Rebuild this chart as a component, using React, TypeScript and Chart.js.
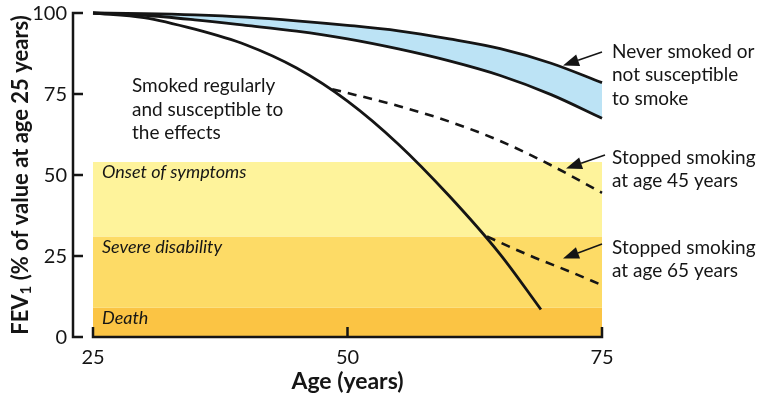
import React, { useEffect, useRef } from 'react';
import { Chart, registerables } from 'chart.js';

Chart.register(...registerables);

// ---- data ----
const ageTicks = [25, 50, 75];
const fevTicks = [0, 25, 50, 75, 100];

const neverAges = [25, 30, 35, 40, 45, 50, 55, 60, 65, 70, 75];
const neverUpper = [100, 99.8, 99.4, 98.7, 97.6, 96.2, 94.5, 92, 89, 84.5, 78.5];
const neverLower = [100, 99.3, 97.9, 96.2, 94.4, 92, 88.9, 85.2, 80.7, 74.8, 67.5];

const smokerAges = [25, 30, 35, 40, 45, 50, 55, 60, 65, 69];
const smokerValues = [100, 98.6, 95, 90.2, 83, 72.8, 59.5, 43.5, 25.5, 8.5];

const quit45Ages = [48.5, 55, 60, 65, 70, 75];
const quit45Values = [76.5, 71.3, 66.5, 60.5, 53, 44.5];

const quit65Ages = [63.7, 68, 72, 75];
const quit65Values = [31, 25, 20, 16];

const bandNames = ['Onset of symptoms', 'Severe disability', 'Death'];
const bandTops = [54, 31, 9];
const bandBottoms = [31, 9, 0];
const bandColors = ['#FEF39B', '#FDDB66', '#FBC444'];
const bandAges = [25, 75];

const smokerLabel = ['Smoked regularly', 'and susceptible to', 'the effects'];
const neverLabel = ['Never smoked or', 'not susceptible', 'to smoke'];
const quit45Label = ['Stopped smoking', 'at age 45 years'];
const quit65Label = ['Stopped smoking', 'at age 65 years'];

const xTitle = 'Age (years)';
const yTitleMain = 'FEV';
const yTitleSub = '1';
const yTitleRest = ' (% of value at age 25 years)';

const FONT = 'Lato, "Open Sans", sans-serif';
const INK = '#151515';

const pts = (xs: number[], ys: number[]) => xs.map((x, i) => ({ x, y: ys[i] }));

function arrow(ctx: CanvasRenderingContext2D, x0: number, y0: number, x1: number, y1: number) {
  const ang = Math.atan2(y1 - y0, x1 - x0);
  const len = 16;
  const hw = 6;
  const bx = x1 - len * Math.cos(ang);
  const by = y1 - len * Math.sin(ang);
  ctx.beginPath();
  ctx.lineWidth = 1.5;
  ctx.moveTo(x0, y0);
  ctx.lineTo(bx, by);
  ctx.stroke();
  ctx.beginPath();
  ctx.moveTo(x1, y1);
  ctx.lineTo(bx + hw * Math.sin(ang), by - hw * Math.cos(ang));
  ctx.lineTo(bx - hw * Math.sin(ang), by + hw * Math.cos(ang));
  ctx.closePath();
  ctx.fill();
}

const decor = {
  id: 'decor',
  afterDraw(chart: any) {
    const { ctx, chartArea: a, scales } = chart;
    const x = scales.x;
    const y = scales.y;
    ctx.save();
    ctx.strokeStyle = INK;
    ctx.fillStyle = INK;

    // y axis
    const ax = a.left - 20;
    const yTop = y.getPixelForValue(100);
    const yBot = y.getPixelForValue(0);
    ctx.lineWidth = 2.5;
    ctx.beginPath();
    ctx.moveTo(ax, yTop - 1.25);
    ctx.lineTo(ax, yBot + 1.25);
    fevTicks.forEach((v) => {
      const py = y.getPixelForValue(v);
      ctx.moveTo(ax - 1.25, py);
      ctx.lineTo(ax + 10, py);
    });
    ctx.stroke();

    ctx.font = `20px ${FONT}`;
    ctx.textAlign = 'right';
    ctx.textBaseline = 'alphabetic';
    y.ticks.forEach((t: any) => {
      if (!fevTicks.includes(t.value)) return;
      ctx.fillText(String(t.value), ax - 6, y.getPixelForValue(t.value) + 7);
    });

    // x axis
    const x0 = x.getPixelForValue(ageTicks[0]);
    const x1 = x.getPixelForValue(ageTicks[ageTicks.length - 1]);
    ctx.beginPath();
    ctx.moveTo(x0 - 1.25, yBot);
    ctx.lineTo(x1 + 1.25, yBot);
    ageTicks.forEach((v) => {
      const px = x.getPixelForValue(v);
      ctx.moveTo(px, yBot);
      ctx.lineTo(px, yBot - 10);
    });
    ctx.stroke();
    ctx.textAlign = 'center';
    x.ticks.forEach((t: any) => {
      ctx.fillText(String(t.value), x.getPixelForValue(t.value), 364);
    });

    // axis titles
    ctx.font = `bold 23px ${FONT}`;
    ctx.fillText(xTitle, (x0 + x1) / 2, 389);

    ctx.save();
    ctx.translate(28, (yTop + yBot) / 2);
    ctx.rotate(-Math.PI / 2);
    ctx.textAlign = 'left';
    const big = `bold 22px ${FONT}`;
    const small = `bold 15px ${FONT}`;
    ctx.font = big;
    const w1 = ctx.measureText(yTitleMain).width;
    const w3 = ctx.measureText(yTitleRest).width;
    ctx.font = small;
    const w2 = ctx.measureText(yTitleSub).width;
    let cx = -(w1 + w2 + w3) / 2;
    ctx.font = big;
    ctx.fillText(yTitleMain, cx, 0);
    cx += w1;
    ctx.font = small;
    ctx.fillText(yTitleSub, cx, 3);
    cx += w2;
    ctx.font = big;
    ctx.fillText(yTitleRest, cx, 0);
    ctx.restore();

    // band labels
    ctx.textAlign = 'left';
    ctx.font = `italic 18px ${FONT}`;
    bandNames.forEach((n, i) => {
      ctx.fillText(n, x.getPixelForValue(bandAges[0]) + 9, y.getPixelForValue(bandTops[i]) + 16);
    });

    // annotations
    ctx.font = `19px ${FONT}`;
    const lh = 23.5;
    smokerLabel.forEach((s, i) => ctx.fillText(s, 132, 92 + i * lh));
    neverLabel.forEach((s, i) => ctx.fillText(s, 612, 57.5 + i * lh));
    quit45Label.forEach((s, i) => ctx.fillText(s, 612, 163.5 + i * lh));
    quit65Label.forEach((s, i) => ctx.fillText(s, 612, 253.5 + i * lh));

    arrow(ctx, 602, 52, 563, 65.5);
    arrow(ctx, 605, 155, 566, 168.5);
    arrow(ctx, 602, 244, 563, 258.5);

    ctx.restore();
  },
};

export default function App() {
  const ref = useRef<HTMLCanvasElement>(null);
  useEffect(() => {
    document.body.style.margin = '0';
    const line = (data: any[], dashed: boolean) => ({
      data,
      borderColor: INK,
      borderWidth: dashed ? 2.6 : 2.8,
      borderDash: dashed ? [9, 7] : [],
      pointRadius: 0,
      fill: false,
      cubicInterpolationMode: 'monotone' as const,
      clip: false as any,
    });
    const datasets: any[] = [
      line(pts(smokerAges, smokerValues), false),
      line(pts(quit45Ages, quit45Values), true),
      line(pts(quit65Ages, quit65Values), true),
      { ...line(pts(neverAges, neverUpper), false), fill: '+1', backgroundColor: '#BCE3F5' },
      line(pts(neverAges, neverLower), false),
      ...bandTops.map((top, i) => ({
        data: bandAges.map((a) => ({ x: a, y: top })),
        borderWidth: 0,
        borderColor: 'rgba(0,0,0,0)',
        pointRadius: 0,
        backgroundColor: bandColors[i],
        fill: { value: bandBottoms[i] },
      })),
    ];
    const chart = new Chart(ref.current!, {
      type: 'line',
      data: { datasets },
      options: {
        responsive: false,
        animation: false,
        layout: { padding: { top: 13, right: 162, left: 0, bottom: 0 } },
        plugins: {
          legend: { display: false },
          tooltip: { enabled: false },
          filler: { drawTime: 'beforeDatasetsDraw' },
        } as any,
        scales: {
          x: {
            type: 'linear',
            min: 25,
            max: 75,
            grid: { display: false },
            border: { display: false },
            ticks: { display: false },
            afterBuildTicks: (s: any) => {
              s.ticks = ageTicks.map((v) => ({ value: v }));
            },
            afterFit: (s: any) => {
              s.height = 56;
            },
          },
          y: {
            type: 'linear',
            min: 0,
            max: 100,
            grid: { display: false },
            border: { display: false },
            ticks: { display: false, stepSize: 25 },
            afterBuildTicks: (s: any) => {
              s.ticks = fevTicks.map((v) => ({ value: v }));
            },
            afterFit: (s: any) => {
              s.width = 93;
            },
          },
        },
      },
      plugins: [decor],
    });
    return () => chart.destroy();
  }, []);
  return <canvas ref={ref} width={764} height={393} style={{ display: 'block' }} />;
}
